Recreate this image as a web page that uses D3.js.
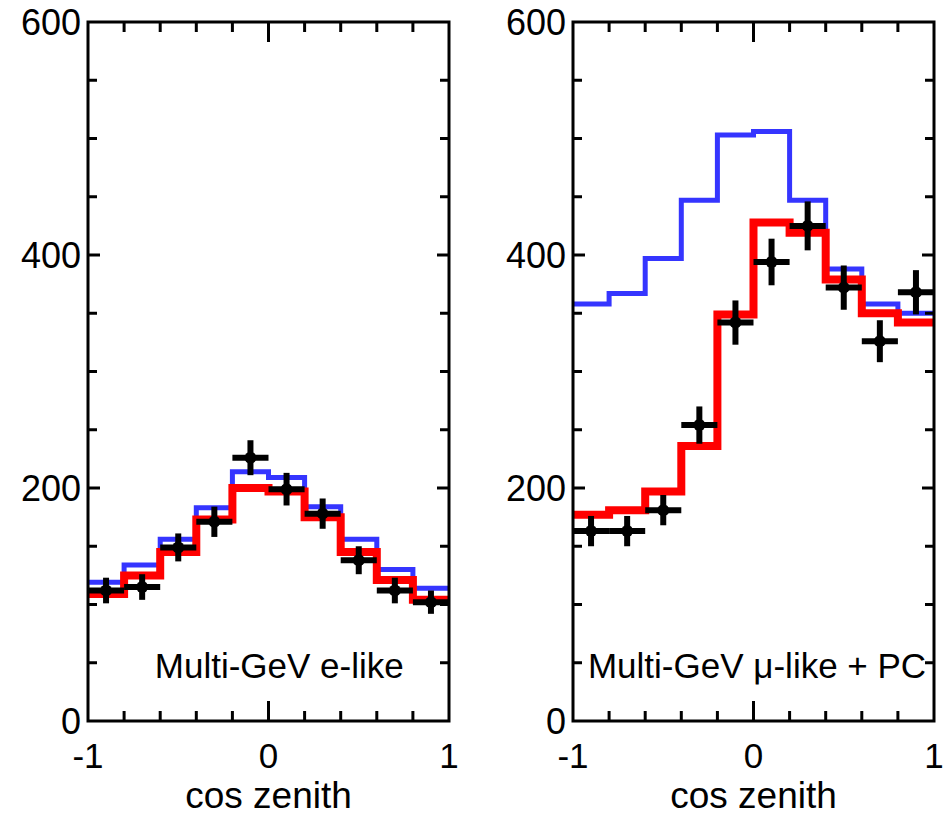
<!DOCTYPE html>
<html>
<head>
<meta charset="utf-8">
<script src="https://d3js.org/d3.v7.min.js"></script>
<style>
  body { margin: 0; background: #fff; }
  svg { display: block; }
  text { font-family: "Liberation Sans", Arial, sans-serif; fill: #000; }
</style>
</head>
<body>
<svg id="chart" width="943" height="817"></svg>
<script>
// bin centres in cos zenith, width 0.2
var binCenters = [-0.9, -0.7, -0.5, -0.3, -0.1, 0.1, 0.3, 0.5, 0.7, 0.9];
var binHalf = 0.1;

// Multi-GeV e-like
var eNoOsc  = [119, 134, 156, 183, 214, 209, 184, 156, 130, 114];
var eOsc    = [109, 125, 145, 173, 200, 197, 175, 145, 121, 104];
var eData   = [112, 115, 149, 171, 226, 199, 178, 138, 112, 102];
var eErr    = [11, 11, 12, 13, 15, 14, 13, 12, 11, 10];

// Multi-GeV mu-like + PC
var muNoOsc = [358, 367, 397, 447, 503, 506, 447, 388, 358, 350];
var muOsc   = [177, 181, 197, 236, 349, 428, 419, 379, 350, 342];
var muData  = [163, 163, 181, 254, 342, 394, 425, 372, 326, 368];
var muErr   = [13, 13, 13, 16, 19, 20, 21, 19, 18, 19];

var xTicks = [-1, 0, 1];
var yTicks = [0, 200, 400, 600];

var svg = d3.select("#chart");
var plotTop = 22, plotBottom = 721, panelW = 361;

var panels = [
  { left: 88,  label: "Multi-GeV e-like",       labelAt: -0.63,
    noOsc: eNoOsc, osc: eOsc, data: eData, err: eErr },
  { left: 573, label: "Multi-GeV \u03bc-like + PC", labelAt: -0.917,
    noOsc: muNoOsc, osc: muOsc, data: muData, err: muErr }
];

var y = d3.scaleLinear().domain([0, 600]).range([plotBottom, plotTop]);

panels.forEach(function(p) {
  var x = d3.scaleLinear().domain([-1, 1]).range([p.left, p.left + panelW]);
  var g = svg.append("g");

  // step outline from bin values
  function steps(vals) {
    var pts = [];
    vals.forEach(function(v, i) {
      pts.push([binCenters[i] - binHalf, v]);
      pts.push([binCenters[i] + binHalf, v]);
    });
    return pts;
  }
  var line = d3.line().x(d => x(d[0])).y(d => y(d[1]));

  g.append("path")
    .attr("d", line(steps(p.noOsc)))
    .attr("fill", "none")
    .attr("stroke", "#3535ff")
    .attr("stroke-width", 5)
    .attr("stroke-linejoin", "miter");

  g.append("path")
    .attr("d", line(steps(p.osc)))
    .attr("fill", "none")
    .attr("stroke", "#ff0000")
    .attr("stroke-width", 8)
    .attr("stroke-linejoin", "miter");

  // data points with errors
  var pts = g.selectAll(".pt")
    .data(binCenters.map((c, i) => ({ c: c, v: p.data[i], e: p.err[i] })))
    .enter().append("g");
  pts.append("line")
    .attr("x1", d => x(d.c - binHalf)).attr("x2", d => x(d.c + binHalf))
    .attr("y1", d => y(d.v)).attr("y2", d => y(d.v))
    .attr("stroke", "#000").attr("stroke-width", 6);
  pts.append("line")
    .attr("x1", d => x(d.c)).attr("x2", d => x(d.c))
    .attr("y1", d => y(d.v - d.e)).attr("y2", d => y(d.v + d.e))
    .attr("stroke", "#000").attr("stroke-width", 6);
  pts.append("circle")
    .attr("cx", d => x(d.c)).attr("cy", d => y(d.v))
    .attr("r", 6).attr("fill", "#000");

  // frame
  g.append("rect")
    .attr("x", x(-1)).attr("y", y(600))
    .attr("width", x(1) - x(-1)).attr("height", y(0) - y(600))
    .attr("fill", "none").attr("stroke", "#000").attr("stroke-width", 3);

  // inward ticks
  var xt = d3.range(-0.8, 0.81, 0.2).map(v => +v.toFixed(1));
  xt.forEach(function(v) {
    var len = Math.abs(v) < 1e-9 ? 20 : 10;
    g.append("line").attr("x1", x(v)).attr("x2", x(v))
      .attr("y1", y(0)).attr("y2", y(0) - len)
      .attr("stroke", "#000").attr("stroke-width", 3);
    g.append("line").attr("x1", x(v)).attr("x2", x(v))
      .attr("y1", y(600)).attr("y2", y(600) + len)
      .attr("stroke", "#000").attr("stroke-width", 3);
  });
  d3.range(50, 600, 50).forEach(function(v) {
    var len = v % 200 === 0 ? 12 : 9;
    g.append("line").attr("x1", x(-1)).attr("x2", x(-1) + len)
      .attr("y1", y(v)).attr("y2", y(v))
      .attr("stroke", "#000").attr("stroke-width", 3);
    g.append("line").attr("x1", x(1)).attr("x2", x(1) - len)
      .attr("y1", y(v)).attr("y2", y(v))
      .attr("stroke", "#000").attr("stroke-width", 3);
  });

  // tick labels
  g.selectAll(".xl").data(xTicks).enter().append("text")
    .attr("x", d => x(d)).attr("y", 768)
    .attr("text-anchor", "middle")
    .style("font-size", "35px")
    .text(d => d === -1 ? "-1" : d);
  g.selectAll(".yl").data(yTicks).enter().append("text")
    .attr("x", x(-1) - 7).attr("y", d => y(d))
    .attr("dy", "0.36em")
    .attr("text-anchor", "end")
    .style("font-size", "36px")
    .text(d => d);

  g.append("text")
    .attr("x", (x(-1) + x(1)) / 2).attr("y", 808)
    .attr("text-anchor", "middle")
    .style("font-size", "37px")
    .text("cos zenith");

  g.append("text")
    .attr("x", x(p.labelAt)).attr("y", 678)
    .style("font-size", "35px")
    .text(p.label);
});
</script>
</body>
</html>
